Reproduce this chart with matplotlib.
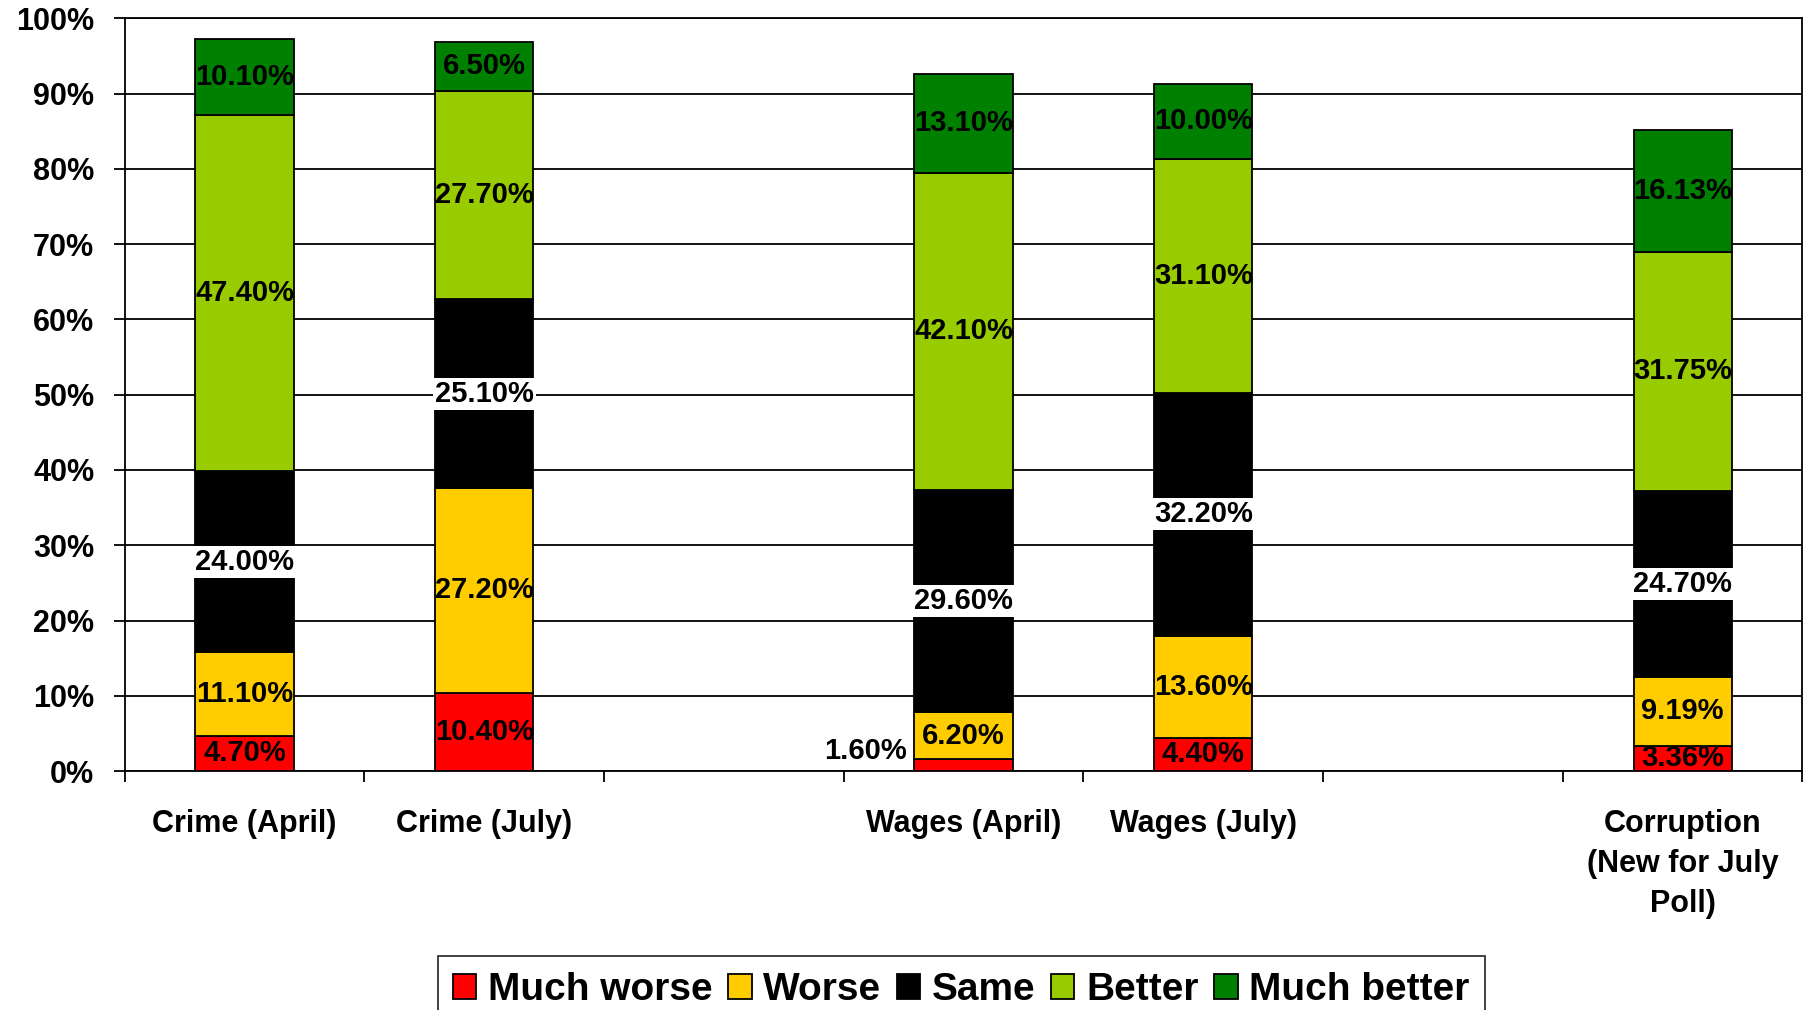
import matplotlib.pyplot as plt
import numpy as np

plt.rcParams['font.family'] = ['Liberation Sans', 'DejaVu Sans']
plt.rcParams['font.weight'] = 'bold'

# data (percent), bottom to top
categories = ["Crime (April)", "Crime (July)", "Wages (April)", "Wages (July)",
              "Corruption\n(New for July\nPoll)"]
slots = [1, 2, 4, 5, 7]
much_worse = [4.70, 10.40, 1.60, 4.40, 3.36]
worse = [11.10, 27.20, 6.20, 13.60, 9.19]
same = [24.00, 25.10, 29.60, 32.20, 24.70]
better = [47.40, 27.70, 42.10, 31.10, 31.75]
much_better = [10.10, 6.50, 13.10, 10.00, 16.13]
series_names = ["Much worse", "Worse", "Same", "Better", "Much better"]
colors = ["#FF0000", "#FFCC00", "#000000", "#99CC00", "#008000"]

series = [much_worse, worse, same, better, much_better]

fig = plt.figure(figsize=(18.07, 10.10), dpi=100)
ax = fig.add_axes([0.069, 0.2366, 0.9285, 0.7452])

bar_w = 0.41
bottom = np.zeros(len(slots))
for name, vals, c in zip(series_names, series, colors):
    vals = np.array(vals)
    ax.bar(slots, vals, bar_w, bottom=bottom, color=c, edgecolor='black',
           linewidth=1.3, label=name, zorder=3)
    for x, b, v in zip(slots, bottom, vals):
        if v < 2:
            # too small, put it left of the bar
            ax.text(x - bar_w / 2 - 0.03, b + 2.6, f"{v:.2f}%", ha='right',
                    va='center', fontsize=21, fontweight='bold', zorder=4)
        elif name == "Same":
            ax.text(x, b + v / 2, f"{v:.2f}%", ha='center', va='center',
                    fontsize=21, fontweight='bold', zorder=4,
                    bbox=dict(facecolor='white', edgecolor='none', pad=1.5))
        else:
            ax.text(x, b + v / 2, f"{v:.2f}%", ha='center', va='center',
                    fontsize=21, fontweight='bold', zorder=4)
    bottom += vals

ax.set_xlim(0.5, 7.5)
ax.set_ylim(0, 100)
ax.set_yticks(np.arange(0, 101, 10))
ax.set_yticklabels([f"{t}%" for t in range(0, 101, 10)])
ax.yaxis.grid(True, color='black', linewidth=1.3)
ax.set_axisbelow(True)

# boundaries get tick marks, labels sit at slot centres
ax.set_xticks(np.arange(0.5, 8, 1))
ax.set_xticklabels([])
ax.set_xticks(slots, minor=True)
ax.set_xticklabels(categories, minor=True, linespacing=1.45)
ax.tick_params(axis='x', which='major', length=8, width=1.3)
ax.tick_params(axis='x', which='minor', length=0, pad=27, labelsize=22)
ax.tick_params(axis='y', length=8, width=1.3, pad=14, labelsize=22)

for sp in ax.spines.values():
    sp.set_linewidth(1.3)
    sp.set_color('black')

leg = fig.legend(loc='upper center', bbox_to_anchor=(0.532, 0.053), ncol=5,
                 fontsize=28, frameon=True, fancybox=False, edgecolor='black',
                 handlelength=0.6, handleheight=0.6, handletextpad=0.3,
                 columnspacing=0.4, borderpad=0.4, borderaxespad=0)
leg.get_frame().set_linewidth(1.3)

fig.savefig("out.png", dpi=100)
